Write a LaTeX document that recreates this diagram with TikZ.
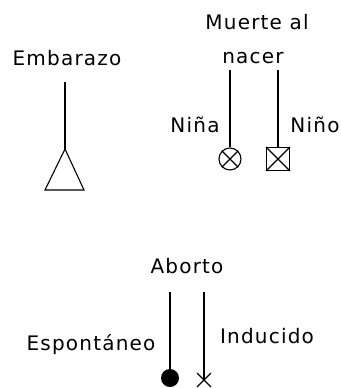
\documentclass[tikz,border=0pt]{standalone}
\usepackage{fontspec}
\setmainfont{DejaVu Sans}[LetterSpace=6]
\begin{document}
\begin{tikzpicture}[x=1pt,y=-1pt,
  lbl/.style={anchor=base,inner sep=0pt,font=\fontsize{20}{22}\selectfont},
  conn/.style={line width=1.3pt},
  sym/.style={draw,line width=1.1pt,inner sep=0pt}]
\useasboundingbox (0,0) rectangle (340,388);
% Embarazo
\node[lbl] (emb) at (67,65) {Embarazo};
\coordinate (embtop) at (65,82);
\coordinate (tri) at (65,149);
\draw[conn] (embtop) -- (tri);
\draw[line width=1.1pt,line join=miter] (tri) -- (45,190) -- (84,190) -- cycle;
% Muerte al nacer
\node[lbl] (muerte) at (257,29) {Muerte al};
\node[lbl] (nacer) at (253,63) {nacer};
\node[lbl] (ninalbl) at (195,132) {Niña};
\node[lbl] (ninolbl) at (315,132) {Niño};
\coordinate (ninatop) at (230,70);
\coordinate (ninotop) at (278,70);
\node[sym,circle,minimum size=22pt] (nina) at (230,159) {};
\draw[line width=1.1pt] (nina.north east) -- (nina.south west) (nina.north west) -- (nina.south east);
\node[sym,rectangle,minimum size=23pt] (nino) at (278,159) {};
\draw[line width=1.1pt] (nino.north east) -- (nino.south west) (nino.north west) -- (nino.south east);
\draw[conn] (ninatop) -- (nina.north);
\draw[conn] (ninotop) -- (nino.north);
% Aborto
\node[lbl] (aborto) at (187,273) {Aborto};
\node[lbl] (esplbl) at (91,350) {Espontáneo};
\node[lbl] (indlbl) at (267,343) {Inducido};
\coordinate (esptop) at (170,292);
\coordinate (indtop) at (204,292);
\node[circle,fill,inner sep=0pt,minimum size=18pt] (esp) at (170,378) {};
\coordinate (ind) at (204,380);
\draw[conn] (esptop) -- (esp.center);
\draw[conn] (indtop) -- (ind);
\draw[line width=1.1pt] ([shift={(-7,-7)}]ind) -- ([shift={(7,7)}]ind)
  ([shift={(-7,7)}]ind) -- ([shift={(7,-7)}]ind);
\end{tikzpicture}
\end{document}
